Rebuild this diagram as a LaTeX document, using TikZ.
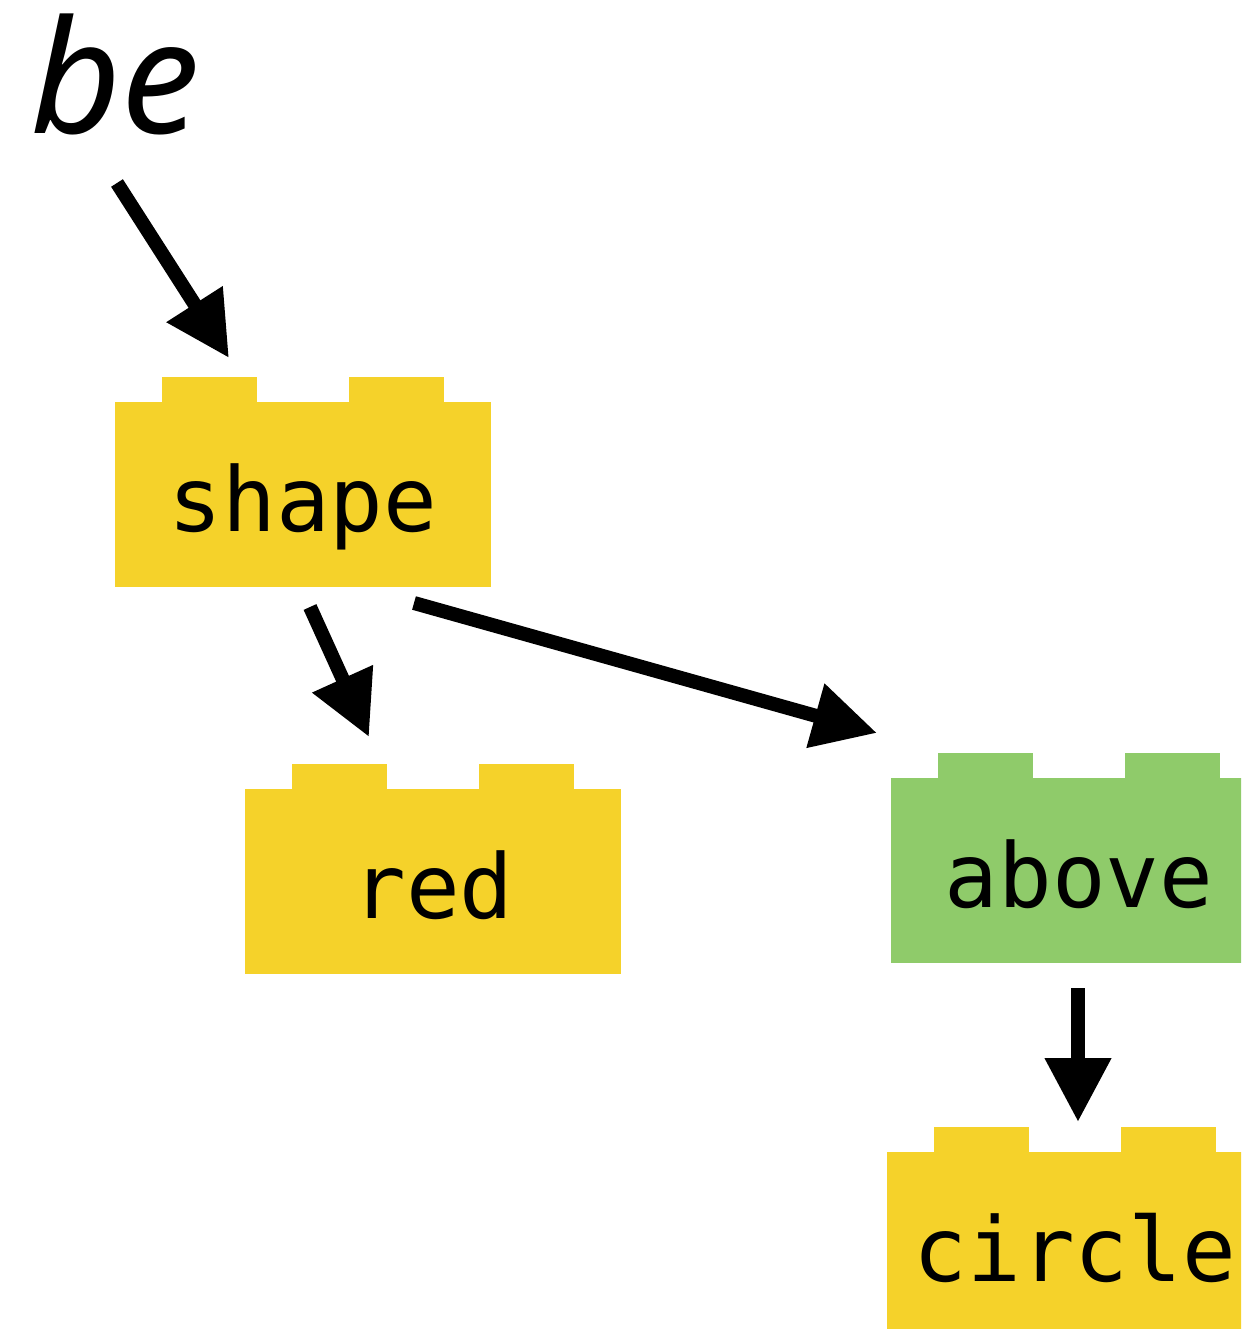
\documentclass[tikz,border=0pt]{standalone}
\usepackage{fontspec}
\setmonofont{DejaVu Sans Mono}
\newfontfamily\befont{Noto Sans}
\usetikzlibrary{arrows.meta,calc}
\definecolor{brickyellow}{HTML}{F5D22A}
\definecolor{brickgreen}{HTML}{8FCB6A}
\tikzset{
  brick/.style={rectangle, fill=#1, inner sep=0pt, minimum width=18.8cm, minimum height=9.25cm,
    text height=3.7cm, text depth=0pt, font=\ttfamily\fontsize{127}{127}\selectfont},
  conn/.style={line width=0.7cm, -{Triangle[length=3.2cm, width=3.15cm]}},
}
\newcommand\brickstuds[2]{%
  \fill[#2] ($(#1.north west)+(47,1)$) rectangle ++(95,-25.5);
  \fill[#2] ($(#1.north west)+(234,1)$) rectangle ++(95,-25.5);}
\begin{document}
\begin{tikzpicture}[x=0.05cm, y=-0.05cm]
\clip (0,0) rectangle (1241,1329);
\node[anchor=base west, inner sep=0pt, font=\befont\itshape\fontsize{224}{224}\selectfont] (be) at (30,133) {be};
\node[brick=brickyellow] (shape) at (303,494.5) {shape};
\node[brick=brickyellow] (red) at (433,881.5) {red};
\node[brick=brickgreen] (above) at (1079,870) {above};
\node[brick=brickyellow] (circle) at (1075,1244.5) {circle};
\brickstuds{shape}{brickyellow}
\brickstuds{red}{brickyellow}
\brickstuds{above}{brickgreen}
\brickstuds{circle}{brickyellow}
\coordinate (b1) at (117,183);
\coordinate (s1) at (229,358);
\coordinate (s2) at (310,607);
\coordinate (r1) at (369,737);
\coordinate (s3) at (414,603);
\coordinate (a1) at (877,733);
\coordinate (a2) at (1078,988);
\coordinate (c1) at (1078,1122);
\draw[conn] (b1) -- (s1);
\draw[conn] (s2) -- (r1);
\draw[conn] (s3) -- (a1);
\draw[conn] (a2) -- (c1);
\end{tikzpicture}
\end{document}
